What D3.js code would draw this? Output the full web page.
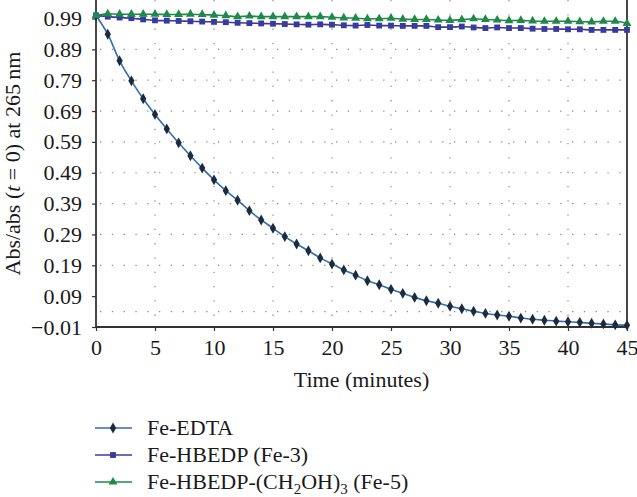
<!DOCTYPE html>
<html><head><meta charset="utf-8">
<script src="https://cdn.jsdelivr.net/npm/d3@7"></script>
<style>html,body{margin:0;padding:0;background:#fff;}svg{display:block;}</style>
</head><body>
<svg id="chart" width="637" height="497"></svg>
<script>
const times = d3.range(0, 46);
const feEDTA = [1.000,0.939,0.853,0.788,0.730,0.679,0.632,0.587,0.545,0.505,0.467,0.432,0.401,0.367,0.337,0.310,0.283,0.259,0.237,0.214,0.194,0.175,0.158,0.140,0.127,0.112,0.099,0.086,0.075,0.067,0.057,0.049,0.041,0.034,0.029,0.025,0.019,0.015,0.012,0.009,0.007,0.005,0.002,0.000,-0.003,-0.004];
const feHBEDP = [1.000,0.996,0.993,0.991,0.987,0.984,0.983,0.982,0.981,0.980,0.979,0.978,0.976,0.975,0.974,0.973,0.972,0.971,0.970,0.971,0.970,0.968,0.967,0.969,0.967,0.967,0.966,0.966,0.966,0.962,0.962,0.964,0.961,0.959,0.961,0.959,0.959,0.957,0.956,0.956,0.955,0.955,0.953,0.953,0.953,0.953];
const feHBEDPCH2OH = [1.000,1.005,1.004,1.004,1.004,1.004,1.003,1.003,1.004,1.003,1.001,0.999,0.996,0.998,0.996,0.996,0.996,0.996,0.996,0.996,0.994,0.992,0.991,0.989,0.989,0.991,0.988,0.987,0.987,0.985,0.984,0.986,0.989,0.987,0.985,0.983,0.984,0.982,0.981,0.981,0.981,0.980,0.979,0.981,0.981,0.974];
const xTicks = [0,5,10,15,20,25,30,35,40,45];
const yTicks = [-0.01,0.09,0.19,0.29,0.39,0.49,0.59,0.69,0.79,0.89,0.99];
const hGrid = [0.04,0.19,0.29,0.39,0.49,0.59,0.69,0.79,0.89];
const vGrid = [5,10,15,20,25,30,35,40];

const series = [
  {name:"Fe-EDTA", values:feEDTA, line:"#2f6db5", mark:"#1e2b3c", sym:d3.symbolDiamond, size:34},
  {name:"Fe-HBEDP (Fe-3)", values:feHBEDP, line:"#3c3a9c", mark:"#3a3a9e", sym:d3.symbolSquare, size:34},
  {name:"Fe-HBEDP-(CH2OH)3 (Fe-5)", values:feHBEDPCH2OH, line:"#1e8a4a", mark:"#1e8a4a", sym:d3.symbolTriangle, size:34}
];

const svg = d3.select("#chart");
const font = "'Liberation Serif', 'DejaVu Serif', serif";
const fs = 22;
const x = d3.scaleLinear().domain([0,45]).range([96,627]);
const y = d3.scaleLinear().domain([-0.01,0.99]).range([327,18.5]);
const yTop = 0;

// grid
svg.append("g").selectAll("line").data(hGrid).join("line")
  .attr("x1", x(0)+4).attr("x2", x(45)).attr("y1", d=>y(d)).attr("y2", d=>y(d))
  .attr("stroke","#8a8a8a").attr("stroke-width",1.2).attr("stroke-dasharray","1.3,10.5");
svg.append("g").selectAll("line").data(vGrid).join("line")
  .attr("x1", d=>x(d)).attr("x2", d=>x(d)).attr("y1", yTop).attr("y2", y(-0.01))
  .attr("stroke","#8a8a8a").attr("stroke-width",1.2).attr("stroke-dasharray","1.3,13");

// axes
const xAxis = d3.axisBottom(x).tickValues(xTicks).tickSize(4).tickPadding(8).tickFormat(d3.format("d"));
const gx = svg.append("g").attr("transform",`translate(0,${y(-0.01)})`).call(xAxis);
gx.select(".domain").remove();
gx.selectAll(".tick line").attr("stroke","#333").attr("stroke-width",1.2);
gx.selectAll("text").attr("font-family",font).attr("font-size",fs).attr("fill","#1a1a1a");

const yAxis = d3.axisLeft(y).tickValues(yTicks).tickSize(4).tickPadding(10)
  .tickFormat(d => d < 0 ? "\u2212" + d3.format(".2f")(-d) : d3.format(".2f")(d));
const gy = svg.append("g").attr("transform",`translate(${x(0)},0)`).call(yAxis);
gy.select(".domain").remove();
gy.selectAll(".tick line").attr("stroke","#333").attr("stroke-width",1.2);
gy.selectAll("text").attr("font-family",font).attr("font-size",fs).attr("fill","#1a1a1a");

// frame lines
svg.append("line").attr("x1",x(0)).attr("x2",x(0)).attr("y1",yTop).attr("y2",y(-0.01)+0.5).attr("stroke","#333").attr("stroke-width",1.8);
svg.append("line").attr("x1",x(0)).attr("x2",x(45)).attr("y1",y(-0.01)).attr("y2",y(-0.01)).attr("stroke","#333").attr("stroke-width",1.8);
svg.append("line").attr("x1",x(45)).attr("x2",x(45)).attr("y1",yTop).attr("y2",y(-0.01)).attr("stroke","#333").attr("stroke-width",1.8);

// series
const lineGen = d3.line().x((d,i)=>x(times[i])).y(d=>y(d)).curve(d3.curveMonotoneX);
series.forEach(s => {
  const g = svg.append("g");
  g.append("path").attr("d", lineGen(s.values)).attr("fill","none").attr("stroke",s.line).attr("stroke-width",1.6);
  g.selectAll("path.m").data(s.values).join("path").attr("class","m")
    .attr("transform",(d,i)=>`translate(${x(times[i])},${y(d)})`)
    .attr("d", d3.symbol().type(s.sym).size(s.size)).attr("fill",s.mark);
});

// y label
const yl = svg.append("text").attr("transform",`translate(20,${(yTop+y(-0.01))/2}) rotate(-90)`)
  .attr("text-anchor","middle").attr("font-family",font).attr("font-size",fs).attr("fill","#1a1a1a");
yl.append("tspan").text("Abs/abs (");
yl.append("tspan").attr("font-style","italic").text("t");
yl.append("tspan").text(" = 0) at 265\u2009nm");

// x label
svg.append("text").attr("x",(x(0)+x(45))/2).attr("y",387).attr("text-anchor","middle")
  .attr("font-family",font).attr("font-size",fs).attr("fill","#1a1a1a").text("Time (minutes)");

// legend
const legY = [428, 455, 482];
series.forEach((s,i) => {
  const g = svg.append("g").attr("transform",`translate(0,${legY[i]})`);
  g.append("line").attr("x1",95).attr("x2",132).attr("y1",0).attr("y2",0).attr("stroke",s.line).attr("stroke-width",1.6);
  g.append("path").attr("transform","translate(113,0)").attr("d",d3.symbol().type(s.sym).size(s.size)).attr("fill",s.mark);
  const t = g.append("text").attr("x",147).attr("y",7).attr("font-family",font).attr("font-size",fs).attr("fill","#1a1a1a");
  if (i === 2) {
    t.append("tspan").text("Fe-HBEDP-(CH");
    t.append("tspan").attr("font-size",15).attr("dy",5).text("2");
    t.append("tspan").attr("dy",-5).text("OH)");
    t.append("tspan").attr("font-size",15).attr("dy",5).text("3");
    t.append("tspan").attr("dy",-5).text(" (Fe-5)");
  } else {
    t.text(s.name);
  }
});
</script>
</body></html>
